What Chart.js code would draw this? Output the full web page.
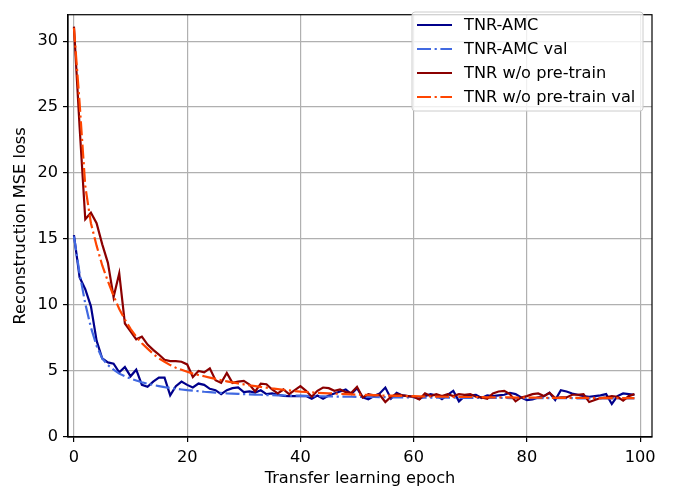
<!DOCTYPE html>
<html>
<head>
<meta charset="utf-8">
<script src="https://cdn.jsdelivr.net/npm/chart.js@4.4.1/dist/chart.umd.min.js"></script>
<style>
  html, body { margin: 0; padding: 0; background: #ffffff; }
  canvas { display: block; }
</style>
</head>
<body>
<canvas id="loss" width="683" height="491"></canvas>
<script>
// epochs 0..99
const epochs = Array.from({ length: 100 }, (_, i) => i);

const trainAmc = [
  15.3, 12.1, 11.2, 9.9, 7.3, 5.95, 5.65, 5.55, 4.9, 5.3,
  4.6, 5.1, 3.95, 3.8, 4.2, 4.5, 4.5, 3.15, 3.85, 4.2,
  3.95, 3.75, 4.05, 3.95, 3.65, 3.55, 3.25, 3.55, 3.7, 3.75,
  3.4, 3.45, 3.37, 3.54, 3.25, 3.3, 3.2, 3.12, 3.1, 3.1,
  3.12, 3.1, 2.9, 3.15, 2.9, 3.15, 3.3, 3.45, 3.6, 3.25,
  3.7, 3.0, 2.85, 3.1, 3.3, 3.75, 2.9, 3.35, 3.15, 3.1,
  3.05, 2.87, 3.1, 3.24, 3.15, 2.87, 3.2, 3.5, 2.7, 3.1,
  3.15, 3.2, 2.95, 3.15, 3.1, 3.15, 3.2, 3.35, 3.25, 3.0,
  2.8, 2.85, 3.0, 3.1, 3.35, 2.8, 3.55, 3.45, 3.3, 3.2,
  3.1, 3.05, 3.1, 3.15, 3.25, 2.5, 3.1, 3.3, 3.25, 3.2
];

const valAmc = [
  15.2, 12.4, 10.1, 8.3, 6.9, 5.95, 5.45, 5.1, 4.8, 4.6,
  4.42, 4.28, 4.15, 4.04, 3.94, 3.86, 3.78, 3.71, 3.65, 3.6,
  3.55, 3.51, 3.47, 3.43, 3.4, 3.37, 3.34, 3.31, 3.29, 3.27,
  3.25, 3.23, 3.21, 3.2, 3.18, 3.17, 3.16, 3.15, 3.14, 3.13,
  3.12, 3.11, 3.1, 3.09, 3.08, 3.07, 3.07, 3.06, 3.05, 3.05,
  3.04, 3.04, 3.03, 3.03, 3.02, 3.02, 3.01, 3.01, 3.0, 3.0,
  3.0, 2.99, 2.99, 2.99, 2.98, 2.98, 2.98, 2.98, 2.97, 2.97,
  2.97, 2.97, 2.96, 2.96, 2.96, 2.96, 2.96, 2.95, 2.95, 2.95,
  2.95, 2.95, 2.95, 2.94, 2.94, 2.94, 2.94, 2.94, 2.94, 2.93,
  2.93, 2.93, 2.93, 2.93, 2.93, 2.93, 2.92, 2.92, 2.92, 2.92
];

const trainNoPre = [
  31.1, 23.5, 16.5, 17.0, 16.2, 14.6, 13.2, 10.6, 12.4, 8.6,
  8.0, 7.4, 7.6, 7.0, 6.6, 6.25, 5.85, 5.75, 5.75, 5.7,
  5.5, 4.55, 5.0, 4.9, 5.2, 4.3, 4.1, 4.85, 4.1, 4.2,
  4.25, 3.98, 3.45, 4.05, 4.0, 3.6, 3.3, 3.6, 3.25, 3.55,
  3.85, 3.5, 3.05, 3.5, 3.75, 3.7, 3.5, 3.6, 3.4, 3.35,
  3.8, 3.0, 3.25, 3.15, 3.2, 2.65, 3.05, 3.25, 3.15, 3.1,
  3.05, 2.85, 3.3, 3.1, 3.25, 3.1, 3.25, 3.1, 3.25, 3.2,
  3.25, 3.05, 3.0, 2.9, 3.3, 3.45, 3.5, 3.25, 2.7, 3.0,
  3.1, 3.25, 3.3, 3.1, 3.35, 2.95, 3.0, 3.0, 3.2, 3.2,
  3.25, 2.65, 2.8, 2.95, 3.0, 3.1, 3.05, 2.75, 3.1, 3.25
];

const valNoPre = [
  31.0, 25.3, 19.0, 16.2, 14.5, 13.0, 11.8, 10.7, 9.7, 8.9,
  8.2, 7.6, 7.1, 6.7, 6.3, 5.95, 5.7, 5.45, 5.25, 5.1,
  4.95, 4.8, 4.7, 4.6, 4.5, 4.4, 4.3, 4.22, 4.14, 4.06,
  3.99, 3.92, 3.86, 3.8, 3.74, 3.68, 3.63, 3.58, 3.53, 3.48,
  3.44, 3.41, 3.38, 3.35, 3.33, 3.31, 3.29, 3.27, 3.25, 3.23,
  3.21, 3.2, 3.18, 3.17, 3.15, 3.14, 3.13, 3.12, 3.11, 3.1,
  3.09, 3.08, 3.07, 3.07, 3.06, 3.05, 3.05, 3.04, 3.04, 3.03,
  3.03, 3.02, 3.02, 3.01, 3.01, 3.0, 3.0, 3.0, 2.99, 2.99,
  2.99, 2.98, 2.98, 2.98, 2.97, 2.97, 2.97, 2.97, 2.96, 2.96,
  2.96, 2.96, 2.96, 2.95, 2.95, 2.95, 2.95, 2.95, 2.95, 2.95
];

const seriesNames = ['TNR-AMC', 'TNR-AMC val', 'TNR w/o pre-train', 'TNR w/o pre-train val'];
const xTickValues = [0, 20, 40, 60, 80, 100];
const yTickValues = [0, 5, 10, 15, 20, 25, 30];

const FONT = 'DejaVu Sans';
const FONT_SIZE = 16.2;
const dashDot = [14, 3.6, 2.2, 3.6];

function toPoints(ys) {
  return ys.map((y, i) => ({ x: epochs[i], y: y }));
}

// frame on all four sides + legend box in the upper right
const framePlugin = {
  id: 'frame',
  afterDraw(chart) {
    const ctx = chart.ctx;
    const a = chart.chartArea;
    ctx.save();
    ctx.strokeStyle = '#000000';
    ctx.lineWidth = 1.2;
    ctx.strokeRect(a.left, a.top, a.right - a.left, a.bottom - a.top);

    // legend
    const bx = 412, by = 12, bw = 231, bh = 99, r = 3;
    ctx.beginPath();
    ctx.moveTo(bx + r, by);
    ctx.lineTo(bx + bw - r, by);
    ctx.quadraticCurveTo(bx + bw, by, bx + bw, by + r);
    ctx.lineTo(bx + bw, by + bh - r);
    ctx.quadraticCurveTo(bx + bw, by + bh, bx + bw - r, by + bh);
    ctx.lineTo(bx + r, by + bh);
    ctx.quadraticCurveTo(bx, by + bh, bx, by + bh - r);
    ctx.lineTo(bx, by + r);
    ctx.quadraticCurveTo(bx, by, bx + r, by);
    ctx.closePath();
    ctx.fillStyle = 'rgba(255,255,255,0.8)';
    ctx.fill();
    ctx.strokeStyle = '#cccccc';
    ctx.lineWidth = 1;
    ctx.stroke();

    chart.data.datasets.forEach((ds, i) => {
      const y = 25 + i * 24;
      ctx.beginPath();
      ctx.setLineDash(ds.borderDash || []);
      ctx.strokeStyle = ds.borderColor;
      ctx.lineWidth = ds.borderWidth;
      ctx.moveTo(417, y);
      ctx.lineTo(452, y);
      ctx.stroke();
      ctx.setLineDash([]);
      ctx.fillStyle = '#000000';
      ctx.font = FONT_SIZE + 'px "' + FONT + '"';
      ctx.textAlign = 'left';
      ctx.textBaseline = 'middle';
      ctx.fillText(ds.label, 464, y + 1);
    });
    ctx.restore();
  }
};

new Chart(document.getElementById('loss'), {
  type: 'line',
  data: {
    datasets: [
      { label: seriesNames[0], data: toPoints(trainAmc), borderColor: '#00008b', borderWidth: 2.2, order: 4 },
      { label: seriesNames[1], data: toPoints(valAmc), borderColor: '#4169e1', borderWidth: 2.2, borderDash: dashDot, order: 3 },
      { label: seriesNames[2], data: toPoints(trainNoPre), borderColor: '#8b0000', borderWidth: 2.2, order: 2 },
      { label: seriesNames[3], data: toPoints(valNoPre), borderColor: '#ff4500', borderWidth: 2.2, borderDash: dashDot, order: 1 }
    ]
  },
  options: {
    responsive: false,
    animation: false,
    devicePixelRatio: 1,
    layout: { padding: { left: 0, top: 3, right: 31, bottom: 0 } },
    elements: {
      point: { radius: 0 },
      line: { tension: 0, fill: false }
    },
    plugins: {
      legend: { display: false },
      tooltip: { enabled: false }
    },
    scales: {
      x: {
        type: 'linear',
        min: -1.05,
        max: 102.1,
        afterBuildTicks: (scale) => { scale.ticks = xTickValues.map(v => ({ value: v })); },
        afterFit: (scale) => { scale.height = 54; },
        grid: { color: '#b0b0b0', lineWidth: 1.2, tickColor: '#000000', tickLength: 5 },
        border: { color: '#000000', width: 1.2 },
        ticks: {
          color: '#000000',
          padding: 6,
          maxRotation: 0,
          font: { family: FONT, size: FONT_SIZE }
        },
        title: {
          display: true,
          text: 'Transfer learning epoch',
          color: '#000000',
          padding: { top: 0, bottom: 2 },
          font: { family: FONT, size: FONT_SIZE }
        }
      },
      y: {
        type: 'linear',
        min: 0,
        max: 32,
        afterBuildTicks: (scale) => { scale.ticks = yTickValues.map(v => ({ value: v })); },
        afterFit: (scale) => { scale.width = 68; },
        grid: { color: '#b0b0b0', lineWidth: 1.2, tickColor: '#000000', tickLength: 5 },
        border: { color: '#000000', width: 1.2 },
        ticks: {
          color: '#000000',
          padding: 5,
          font: { family: FONT, size: FONT_SIZE }
        },
        title: {
          display: true,
          text: 'Reconstruction MSE loss',
          color: '#000000',
          padding: { top: 11, bottom: 0 },
          font: { family: FONT, size: FONT_SIZE }
        }
      }
    }
  },
  plugins: [framePlugin]
});
</script>
</body>
</html>
